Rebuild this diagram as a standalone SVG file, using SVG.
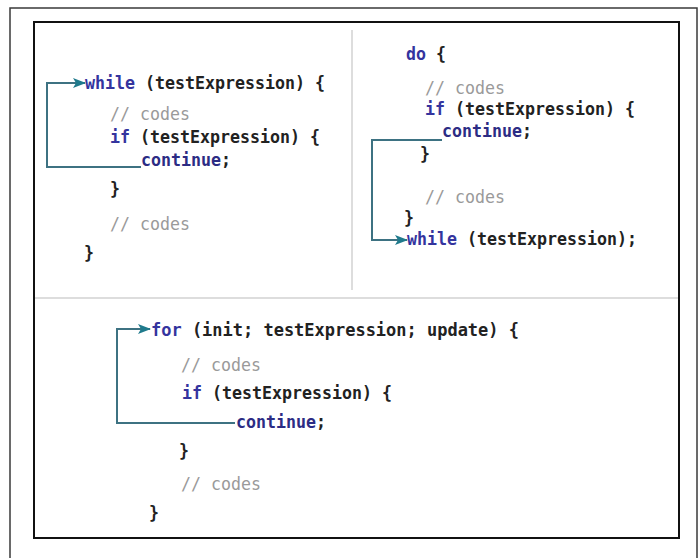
<svg xmlns="http://www.w3.org/2000/svg" width="698" height="558" viewBox="0 0 698 558">
<style>
.code{font-family:"DejaVu Sans Mono","Liberation Mono",monospace;font-size:18px;font-weight:bold;fill:#222}
.kw{fill:#34349e}
.kw2{fill:#2c2c84}
.cm{font-weight:normal;fill:#9a9a9a}
.conn{fill:none;stroke:#3d7282;stroke-width:2}
.sep{stroke:#d2d2d2;stroke-width:1.5}
</style>
<defs>
<marker id="arr" markerWidth="13" markerHeight="10" refX="12" refY="5" orient="auto" markerUnits="userSpaceOnUse">
<path d="M0,0 L13,5 L0,10 L3,5 Z" fill="#1f7a8c"/>
</marker>
</defs>
<rect width="698" height="558" fill="#fff"/>
<rect x="10" y="8" width="687" height="560" fill="none" stroke="#3a3a3a" stroke-width="1.5"/>
<rect x="34" y="22" width="645" height="516" fill="none" stroke="#111" stroke-width="2"/>
<g id="separators">
<line class="sep" x1="352" y1="30" x2="352" y2="290"/>
<line class="sep" x1="35" y1="298" x2="678" y2="298"/>
</g>
<g id="while-loop">
<text class="code" x="85" y="89" textLength="240" lengthAdjust="spacingAndGlyphs"><tspan class="kw">while</tspan> (testExpression) {</text>
<text class="code cm" x="110" y="120" textLength="80" lengthAdjust="spacingAndGlyphs">// codes</text>
<text class="code" x="110" y="143" textLength="210" lengthAdjust="spacingAndGlyphs"><tspan class="kw">if</tspan> (testExpression) {</text>
<text class="code" x="141" y="166" textLength="90" lengthAdjust="spacingAndGlyphs"><tspan class="kw2">continue</tspan>;</text>
<text class="code" x="110" y="195" textLength="10" lengthAdjust="spacingAndGlyphs">}</text>
<text class="code cm" x="110" y="230" textLength="80" lengthAdjust="spacingAndGlyphs">// codes</text>
<text class="code" x="84" y="259" textLength="10" lengthAdjust="spacingAndGlyphs">}</text>
</g>
<g id="do-while-loop">
<text class="code" x="406" y="60" textLength="40" lengthAdjust="spacingAndGlyphs"><tspan class="kw">do</tspan> {</text>
<text class="code cm" x="425" y="94" textLength="80" lengthAdjust="spacingAndGlyphs">// codes</text>
<text class="code" x="425" y="115" textLength="210" lengthAdjust="spacingAndGlyphs"><tspan class="kw">if</tspan> (testExpression) {</text>
<text class="code" x="442" y="137" textLength="90" lengthAdjust="spacingAndGlyphs"><tspan class="kw2">continue</tspan>;</text>
<text class="code" x="420" y="160" textLength="10" lengthAdjust="spacingAndGlyphs">}</text>
<text class="code cm" x="425" y="203" textLength="80" lengthAdjust="spacingAndGlyphs">// codes</text>
<text class="code" x="404" y="224" textLength="10" lengthAdjust="spacingAndGlyphs">}</text>
<text class="code" x="407" y="245" textLength="230" lengthAdjust="spacingAndGlyphs"><tspan class="kw">while</tspan> (testExpression);</text>
</g>
<g id="for-loop">
<text class="code" x="151" y="336" textLength="368" lengthAdjust="spacingAndGlyphs"><tspan class="kw">for</tspan> (init; testExpression; update) {</text>
<text class="code cm" x="181" y="371" textLength="80" lengthAdjust="spacingAndGlyphs">// codes</text>
<text class="code" x="182" y="399" textLength="210" lengthAdjust="spacingAndGlyphs"><tspan class="kw">if</tspan> (testExpression) {</text>
<text class="code" x="236" y="428" textLength="90" lengthAdjust="spacingAndGlyphs"><tspan class="kw2">continue</tspan>;</text>
<text class="code" x="179" y="457" textLength="10" lengthAdjust="spacingAndGlyphs">}</text>
<text class="code cm" x="181" y="490" textLength="80" lengthAdjust="spacingAndGlyphs">// codes</text>
<text class="code" x="149" y="519" textLength="10" lengthAdjust="spacingAndGlyphs">}</text>
</g>
<g id="connectors">
<path class="conn" d="M141,167 H47 V83 H85" marker-end="url(#arr)"/>
<path class="conn" d="M442,140 H372 V240 H407" marker-end="url(#arr)"/>
<path class="conn" d="M235,423 H117 V329 H150" marker-end="url(#arr)"/>
</g>
</svg>
